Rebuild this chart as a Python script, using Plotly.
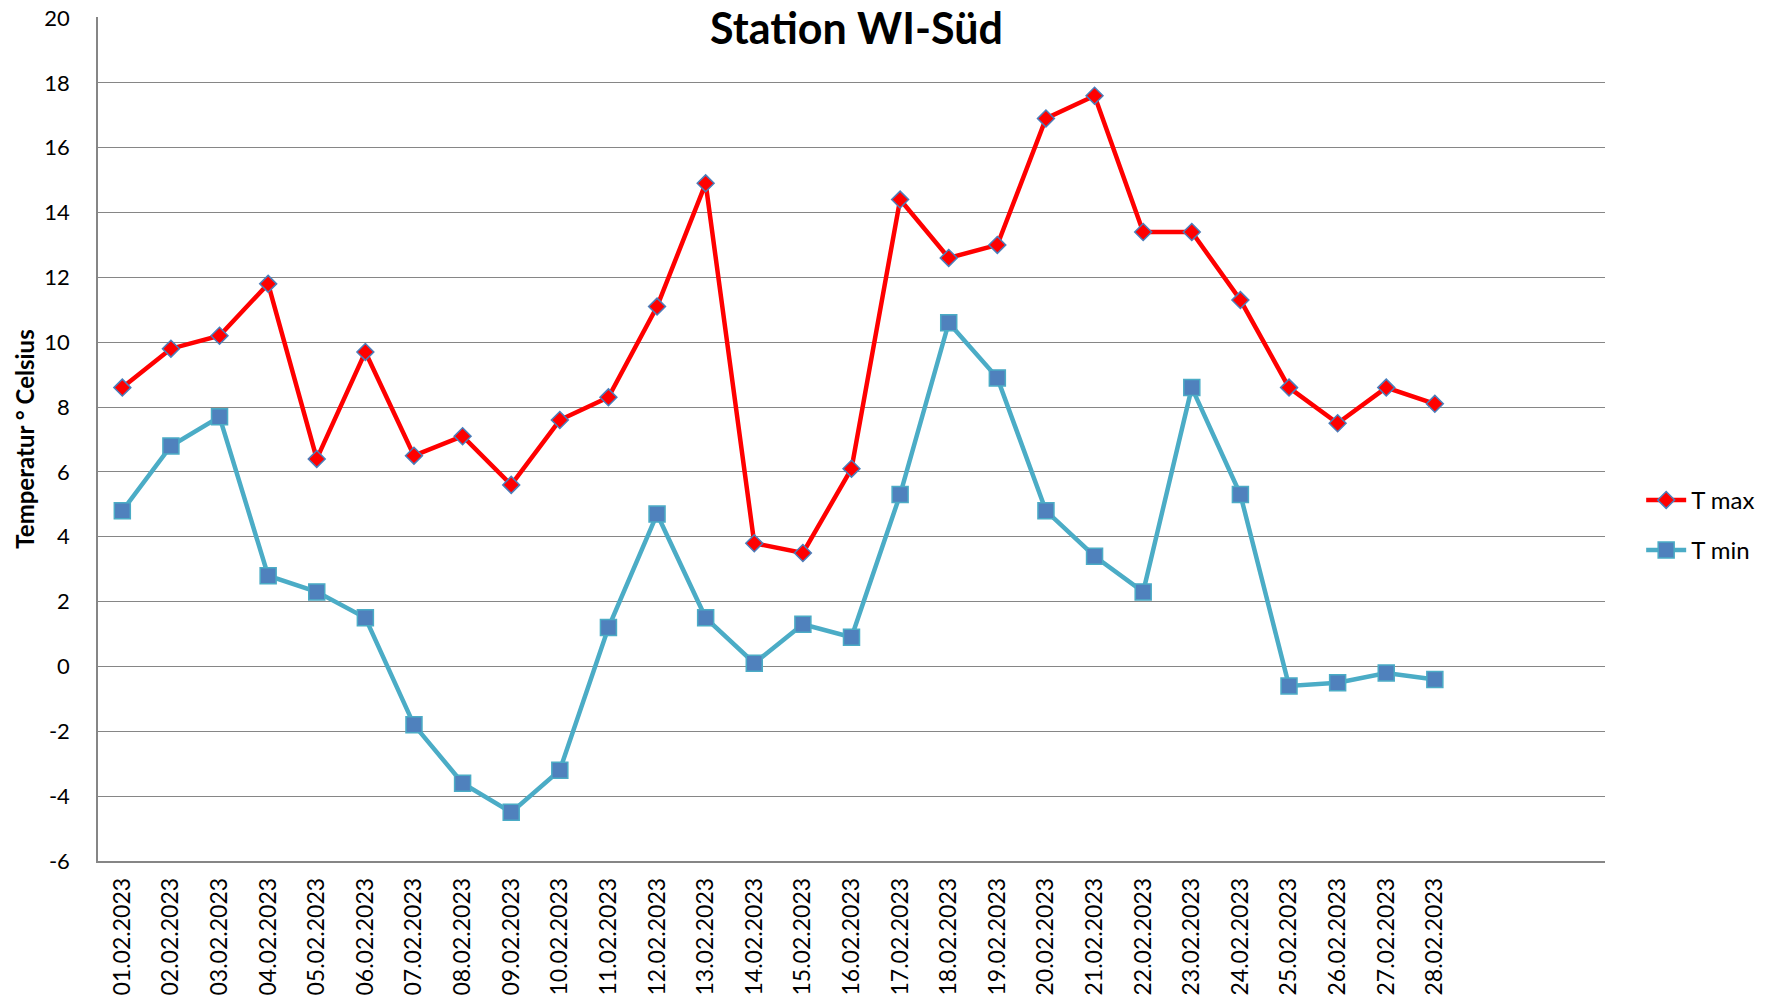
import plotly.graph_objects as go

dates = ["01.02.2023", "02.02.2023", "03.02.2023", "04.02.2023", "05.02.2023", "06.02.2023",
         "07.02.2023", "08.02.2023", "09.02.2023", "10.02.2023", "11.02.2023", "12.02.2023",
         "13.02.2023", "14.02.2023", "15.02.2023", "16.02.2023", "17.02.2023", "18.02.2023",
         "19.02.2023", "20.02.2023", "21.02.2023", "22.02.2023", "23.02.2023", "24.02.2023",
         "25.02.2023", "26.02.2023", "27.02.2023", "28.02.2023"]
t_max = [8.6, 9.8, 10.2, 11.8, 6.4, 9.7, 6.5, 7.1, 5.6, 7.6, 8.3, 11.1, 14.9, 3.8, 3.5, 6.1,
         14.4, 12.6, 13.0, 16.9, 17.6, 13.4, 13.4, 11.3, 8.6, 7.5, 8.6, 8.1]
t_min = [4.8, 6.8, 7.7, 2.8, 2.3, 1.5, -1.8, -3.6, -4.5, -3.2, 1.2, 4.7, 1.5, 0.1, 1.3, 0.9,
         5.3, 10.6, 8.9, 4.8, 3.4, 2.3, 8.6, 5.3, -0.6, -0.5, -0.2, -0.4]
y_ticks = list(range(-6, 21, 2))

fig = go.Figure()
fig.add_trace(go.Scatter(
    x=dates, y=t_max, name="T max", mode="lines+markers", legendgroup="a",
    line=dict(color="#ff0000", width=4.5),
    marker=dict(symbol="diamond", size=13, color="#ff0000", line=dict(color="#4a7ebb", width=1.5)),
))
fig.add_trace(go.Scatter(
    x=dates, y=t_min, name="T min", mode="lines+markers", legendgroup="b",
    line=dict(color="#4bacc6", width=4.5),
    marker=dict(symbol="square", size=16, color="#4f81bd", line=dict(color="#4bacc6", width=1.5)),
))

W, H = 1776, 1003
L, R, T, B = 98, 171, 17, 142

fig.update_layout(
    width=W, height=H,
    margin=dict(l=L, r=R, t=T, b=B, autoexpand=False),
    paper_bgcolor="white", plot_bgcolor="white",
    showlegend=True,
    legend=dict(x=1.024, y=0.454, xanchor="left", yanchor="top",
                font=dict(family="Lato", size=24, color="black"),
                traceorder="grouped", tracegroupgap=16, itemwidth=40,
                bgcolor="rgba(0,0,0,0)"),
    annotations=[dict(text="<b>Station WI-Süd</b>", xref="paper", yref="paper",
                      x=0.503, y=1, xanchor="center", yanchor="top", yshift=17,
                      showarrow=False, font=dict(family="Lato", size=43, color="black"))],
)
fig.update_xaxes(
    type="category", categoryorder="array", categoryarray=dates,
    range=[-0.5, 30.5], showgrid=False,
    showline=True, linecolor="#868686", linewidth=1.5,
    tickangle=-90, ticks="", ticklabelstandoff=6, ticklabeloverflow="allow",
    tickfont=dict(family="Lato", size=23, color="black"),
    zeroline=False,
)
fig.update_yaxes(
    range=[-6.0001, 20.03], tickvals=y_ticks, ticktext=[str(v) for v in y_ticks],
    showgrid=True, gridcolor="#868686", gridwidth=1,
    showline=True, linecolor="#868686", linewidth=1.5,
    zeroline=False, ticks="", ticklabelstandoff=22, ticklabeloverflow="allow",
    tickfont=dict(family="Lato", size=22, color="black"),
    title=dict(text="<b>Temperatur ° Celsius</b>", standoff=3,
               font=dict(family="Lato", size=24, color="black")),
)
fig.write_html("out.html", config={"displayModeBar": False},
               post_script="document.body.style.margin='0';")
